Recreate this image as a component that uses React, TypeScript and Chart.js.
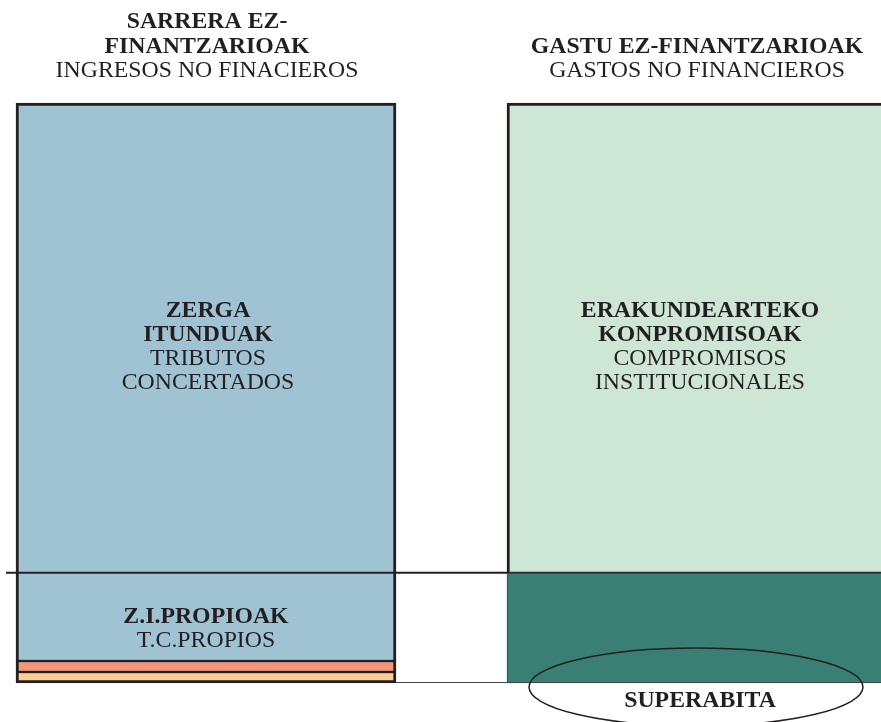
import React, { useEffect, useRef } from "react";
import { Chart, registerables } from "chart.js";

Chart.register(...registerables);

// ---- data ----
const categories = ["SARRERA EZ-FINANTZARIOAK", "GASTU EZ-FINANTZARIOAK"];
const titleBold = [["SARRERA EZ-", "FINANTZARIOAK"], ["GASTU EZ-FINANTZARIOAK"]];
const titleRegular = [["INGRESOS NO FINACIEROS"], ["GASTOS NO FINANCIEROS"]];

const otherAValues = [1.9, null];
const otherBValues = [1.9, null];
const propioakValues = [15.2, null];
const zergaValues = [81.0, null];
const superabitaValues = [null, 19.0];
const konpromisoakValues = [null, 81.0];

const propioakBold = ["Z.I.PROPIOAK"];
const propioakRegular = ["T.C.PROPIOS"];
const zergaBold = ["ZERGA", "ITUNDUAK"];
const zergaRegular = ["TRIBUTOS", "CONCERTADOS"];
const konpromisoakBold = ["ERAKUNDEARTEKO", "KONPROMISOAK"];
const konpromisoakRegular = ["COMPROMISOS", "INSTITUCIONALES"];
const superabitaLabel = "SUPERABITA";

const DARK = "#231f20";
const FONT = "'Liberation Serif', 'Times New Roman', serif";
const FS = 23.8;

const overlayPlugin = {
  id: "overlay",
  afterDatasetsDraw(chart: any) {
    const ctx = chart.ctx;
    const y = chart.scales.y;
    const ca = chart.chartArea;
    const leftBar = chart.getDatasetMeta(3).data[0];
    const rightTop = chart.getDatasetMeta(5).data[1];
    const rightBottom = chart.getDatasetMeta(4).data[1];
    const lh = 24;

    const drawBlock = (cx: number, cy: number, bold: string[], reg: string[]) => {
      const lines = [...bold.map((t) => [t, true]), ...reg.map((t) => [t, false])] as [string, boolean][];
      const start = cy - ((lines.length - 1) * lh) / 2;
      ctx.save();
      ctx.fillStyle = DARK;
      ctx.textAlign = "center";
      ctx.textBaseline = "middle";
      lines.forEach(([t, b], i) => {
        ctx.font = `${b ? "bold " : ""}${FS}px ${FONT}`;
        ctx.fillText(t, cx, start + i * lh);
      });
      ctx.restore();
    };

    // horizontal reference line at top of own-tax segment
    const lineY = y.getPixelForValue(otherAValues[0]! + otherBValues[0]! + propioakValues[0]!);
    ctx.save();
    ctx.strokeStyle = DARK;
    ctx.lineWidth = 2;
    ctx.beginPath();
    ctx.moveTo(6, lineY);
    ctx.lineTo(rightTop.x - rightTop.width / 2, lineY);
    ctx.stroke();

    // baseline
    const baseY = y.getPixelForValue(0) - 0.5;
    ctx.lineWidth = 1;
    ctx.strokeStyle = "#444";
    ctx.beginPath();
    ctx.moveTo(leftBar.x + leftBar.width / 2, baseY);
    ctx.lineTo(chart.width, baseY);
    ctx.stroke();
    ctx.restore();

    // titles
    const titleXs = [leftBar.x + 1, rightTop.x];
    titleXs.forEach((cx, i) => {
      const lines = [...titleBold[i].map((t) => [t, true]), ...titleRegular[i].map((t) => [t, false])] as [string, boolean][];
      const lastY = ca.top - 32;
      ctx.save();
      ctx.fillStyle = DARK;
      ctx.textAlign = "center";
      ctx.textBaseline = "middle";
      lines.forEach(([t, b], k) => {
        ctx.font = `${b ? "bold " : ""}${FS}px ${FONT}`;
        ctx.fillText(t, cx, lastY - (lines.length - 1 - k) * 24.5);
      });
      ctx.restore();
    });

    // segment labels
    const zEl = chart.getDatasetMeta(3).data[0];
    drawBlock(zEl.x + 2, (zEl.y + zEl.base) / 2 + 9, zergaBold, zergaRegular);
    const pEl = chart.getDatasetMeta(2).data[0];
    drawBlock(pEl.x, (pEl.y + pEl.base) / 2 + 12, propioakBold, propioakRegular);
    drawBlock(rightTop.x + 3, (rightTop.y + rightTop.base) / 2 + 9, konpromisoakBold, konpromisoakRegular);

    // superabita ellipse
    const ex = rightBottom.x - 1;
    const ey = rightBottom.base + 4;
    ctx.save();
    ctx.strokeStyle = DARK;
    ctx.lineWidth = 1.5;
    ctx.beginPath();
    ctx.ellipse(ex, ey, 167, 39, 0, 0, Math.PI * 2);
    ctx.stroke();
    ctx.fillStyle = DARK;
    ctx.textAlign = "center";
    ctx.textBaseline = "middle";
    ctx.font = `bold ${FS}px ${FONT}`;
    ctx.fillText(superabitaLabel, ex + 4, ey + 14);
    ctx.restore();
  },
};

export default function App() {
  const ref = useRef<HTMLCanvasElement | null>(null);
  useEffect(() => {
    if (!ref.current) return;
    const common = { borderColor: DARK, borderSkipped: false as const, clip: false as any, barThickness: 380 };
    const chart = new Chart(ref.current, {
      type: "bar",
      data: {
        labels: categories,
        datasets: [
          { label: "A", data: otherAValues as any, backgroundColor: "#fdcc99", ...common, borderWidth: { top: 1.5, bottom: 3, left: 3, right: 3 } },
          { label: "B", data: otherBValues as any, backgroundColor: "#f4967a", ...common, borderWidth: { top: 1.5, bottom: 1.5, left: 3, right: 3 } },
          { label: "Z.I.PROPIOAK", data: propioakValues as any, backgroundColor: "#9fc3d3", ...common, borderWidth: { top: 0, bottom: 1.5, left: 3, right: 3 } },
          { label: "ZERGA ITUNDUAK", data: zergaValues as any, backgroundColor: "#9fc3d3", ...common, borderWidth: { top: 3, bottom: 0, left: 3, right: 3 } },
          { label: "SUPERABITA", data: superabitaValues as any, backgroundColor: "#3a7f74", ...common, borderColor: "#2b4f49", borderWidth: { top: 1.5, bottom: 1, left: 1, right: 0 } },
          { label: "ERAKUNDEARTEKO KONPROMISOAK", data: konpromisoakValues as any, backgroundColor: "#cde6d6", ...common, borderWidth: { top: 3, bottom: 1.5, left: 3, right: 0 } },
        ],
      },
      options: {
        responsive: false,
        animation: false,
        layout: { padding: { left: 206, right: 184, top: 103, bottom: 39 } },
        plugins: { legend: { display: false }, tooltip: { enabled: false }, title: { display: false } },
        scales: {
          x: { type: "category", stacked: true, offset: false, display: false, grid: { display: false } },
          y: { stacked: true, min: 0, max: 100, display: false, grid: { display: false } },
        },
      },
      plugins: [overlayPlugin],
    });
    return () => chart.destroy();
  }, []);
  return (
    <div style={{ position: "fixed", left: 0, top: 0, width: 881, height: 722, background: "#fff", overflow: "hidden" }}>
      <canvas ref={ref} width={881} height={722} style={{ display: "block", width: 881, height: 722 }} />
    </div>
  );
}
